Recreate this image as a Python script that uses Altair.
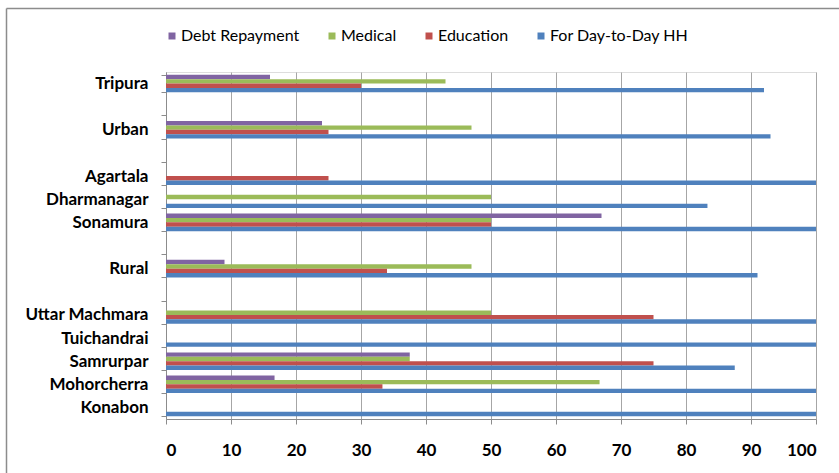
import altair as alt
import pandas as pd

# Row order of the vertical axis; blank entries leave an empty row between groups
rows = ["Tripura", " ", "Urban", "  ", "Agartala", "Dharmanagar", "Sonamura", "   ",
        "Rural", "    ", "Uttar Machmara", "Tuichandrai", "Samrurpar", "Mohorcherra", "Konabon"]

places = ["Tripura", "Urban", "Agartala", "Dharmanagar", "Sonamura", "Rural",
          "Uttar Machmara", "Tuichandrai", "Samrurpar", "Mohorcherra", "Konabon"]

series = ["Debt Repayment", "Medical", "Education", "For Day-to-Day HH"]
colors = ["#8064A2", "#9BBB59", "#C0504D", "#4F81BD"]

debt_repayment = [16, 24, 0, 0, 67, 9, 0, 0, 37.5, 16.7, 0]
medical = [43, 47, 0, 50, 50, 47, 50, 0, 37.5, 66.7, 0]
education = [30, 25, 25, 0, 50, 34, 75, 0, 75, 33.3, 0]
day_to_day = [92, 93, 100, 83.3, 100, 91, 100, 100, 87.5, 100, 100]

x_ticks = [0, 10, 20, 30, 40, 50, 60, 70, 80, 90, 100]

records = []
for name, vals in zip(series, [debt_repayment, medical, education, day_to_day]):
    for place, v in zip(places, vals):
        records.append({"place": place, "purpose": name, "pct": v})
df = pd.DataFrame(records)

FONT = "Lato"

bars = alt.Chart(df).transform_filter("datum.pct > 0").mark_bar().encode(
    y=alt.Y("place:N", sort=rows,
            scale=alt.Scale(domain=rows, paddingInner=0.24, paddingOuter=0.12),
            axis=alt.Axis(title=None, tickBand="extent", grid=False, tickSize=5,
                          labelPadding=13, labelFont=FONT, labelFontSize=17,
                          labelFontWeight="bold", labelColor="#000000",
                          domainColor="#8c8c8c", tickColor="#8c8c8c", labelLimit=300)),
    yOffset=alt.YOffset("purpose:N", sort=series, scale=alt.Scale(domain=series)),
    x=alt.X("pct:Q", scale=alt.Scale(domain=[0, 100], nice=False),
            axis=alt.Axis(title=None, values=x_ticks, tickSize=5, labelPadding=18,
                          labelFont=FONT, labelFontSize=17, labelFontWeight="bold",
                          labelColor="#000000", gridColor="#a6a6a6", domainColor="#8c8c8c",
                          tickColor="#8c8c8c")),
    color=alt.Color("purpose:N", sort=series,
                    scale=alt.Scale(domain=series, range=colors),
                    legend=alt.Legend(title=None, orient="none", direction="horizontal",
                                      columns=4, legendX=-2, legendY=-44,
                                      symbolType="square", symbolSize=49,
                                      symbolStrokeWidth=0, labelOffset=1,
                                      columnPadding=24, labelFont=FONT,
                                      labelFontSize=16, labelColor="#000000")),
)

# Outer chart frame (left and top edges)
frame_df = pd.DataFrame({"edge": [0]})
left_edge = alt.Chart(frame_df).mark_rule(color="#8c8c8c", strokeWidth=1.5).encode(
    x=alt.value(-159.5), y=alt.value(-63.5), y2=alt.value(420))
top_edge = alt.Chart(frame_df).mark_rule(color="#8c8c8c", strokeWidth=1.5).encode(
    x=alt.value(-159.5), x2=alt.value(700), y=alt.value(-63.5))

chart = alt.layer(bars, left_edge, top_edge).properties(
    width=650, height=347,
    autosize=alt.AutoSizeParams(type="none"),
    padding={"left": 166, "top": 72, "right": 23, "bottom": 54},
).configure_view(stroke=None).configure(background="#ffffff")

chart.save("out.html", embed_options={"renderer": "svg", "actions": False})
